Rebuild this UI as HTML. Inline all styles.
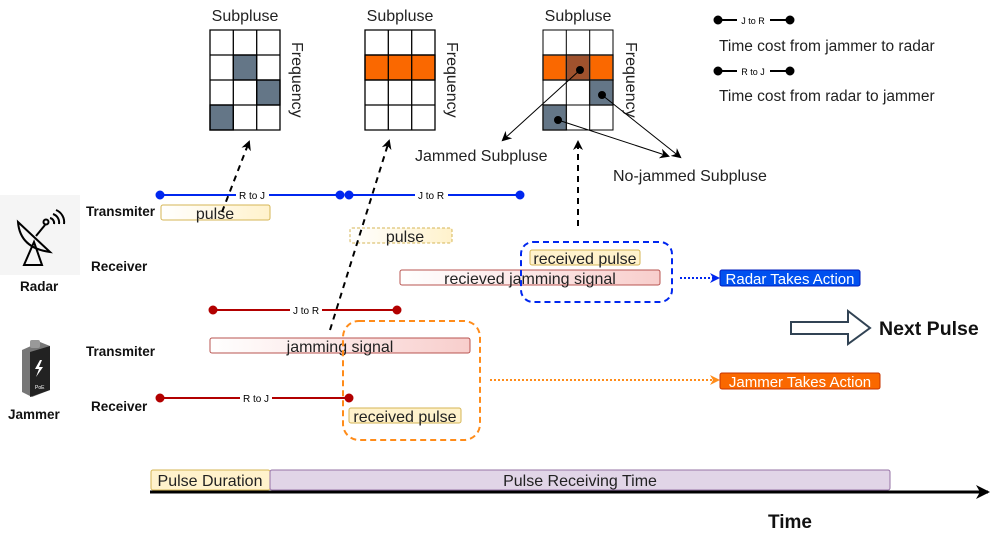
<!DOCTYPE html>
<html><head><meta charset="utf-8"><style>
html,body{margin:0;padding:0;background:#fff;}
svg{display:block;font-family:"Liberation Sans",Arial,sans-serif;}
</style></head><body>
<svg width="1000" height="533" viewBox="0 0 1000 533" xmlns="http://www.w3.org/2000/svg">
<defs>
<linearGradient id="gy" x1="0" x2="1"><stop offset="0" stop-color="#fff"/><stop offset="1" stop-color="#fff2cc"/></linearGradient>
<linearGradient id="gr" x1="0" x2="1"><stop offset="0" stop-color="#fff"/><stop offset="1" stop-color="#f8cecc"/></linearGradient>
<marker id="ab" markerWidth="10" markerHeight="10" refX="8" refY="5" orient="auto" markerUnits="userSpaceOnUse"><path d="M0,0 L10,5 L0,10 L3,5 z" fill="#000"/></marker>
<marker id="abl" markerWidth="10" markerHeight="10" refX="8" refY="5" orient="auto" markerUnits="userSpaceOnUse"><path d="M0,0 L10,5 L0,10 L3,5 z" fill="#0027ef"/></marker>
<marker id="ao" markerWidth="10" markerHeight="10" refX="8" refY="5" orient="auto" markerUnits="userSpaceOnUse"><path d="M0,0 L10,5 L0,10 L3,5 z" fill="#ff8c1a"/></marker>
<marker id="at" markerWidth="14" markerHeight="14" refX="12" refY="7" orient="auto" markerUnits="userSpaceOnUse"><path d="M0,0 L14,7 L0,14 L4,7 z" fill="#000"/></marker>
</defs>

<g font-size="16" fill="#222">
<text x="245" y="21" text-anchor="middle">Subpluse</text>
<text x="400" y="21" text-anchor="middle">Subpluse</text>
<text x="578" y="21" text-anchor="middle">Subpluse</text>
</g>
<g stroke="#000" stroke-width="1.3">
<rect x="233.3" y="55" width="23.3" height="25" fill="#647687"/>
<rect x="256.7" y="80" width="23.3" height="25" fill="#647687"/>
<rect x="210" y="105" width="23.3" height="25" fill="#647687"/>
<path d="M210,30h70v100h-70z M233.3,30v100 M256.7,30v100 M210,55h70 M210,80h70 M210,105h70" fill="none"/>
<rect x="365" y="55" width="70" height="25" fill="#fa6800"/>
<path d="M365,30h70v100h-70z M388.3,30v100 M411.7,30v100 M365,55h70 M365,80h70 M365,105h70" fill="none"/>
</g>
<g stroke="#666" stroke-width="1.5">
<rect x="543" y="55" width="70" height="25" fill="#fa6800"/>
<rect x="566.3" y="55" width="23.3" height="25" fill="#a0522d"/>
<rect x="589.7" y="80" width="23.3" height="25" fill="#647687"/>
<rect x="543" y="105" width="23.3" height="25" fill="#647687"/>
<path d="M543,30h70v100h-70z M566.3,30v100 M589.7,30v100 M543,55h70 M543,80h70 M543,105h70" fill="none" stroke="#000" stroke-width="1"/>
</g>
<g font-size="16" fill="#222">
<text transform="translate(292,42) rotate(90)">Frequency</text>
<text transform="translate(447,42) rotate(90)">Frequency</text>
<text transform="translate(626,42) rotate(90)">Frequency</text>
</g>
<g stroke="#000" stroke-width="1">
<circle cx="580" cy="70" r="3.5" fill="#000"/>
<circle cx="602" cy="95" r="3.5" fill="#000"/>
<circle cx="558" cy="120" r="3.5" fill="#000"/>
<line x1="580" y1="70" x2="503" y2="140" marker-end="url(#ab)"/>
<line x1="602" y1="95" x2="680" y2="157" marker-end="url(#ab)"/>
<line x1="558" y1="120" x2="668" y2="156" marker-end="url(#ab)"/>
</g>
<text x="415" y="161" font-size="16" fill="#222">Jammed Subpluse</text>
<text x="613" y="181" font-size="16" fill="#222">No-jammed Subpluse</text>

<g stroke="#000" stroke-width="2">
<line x1="718" y1="20" x2="792" y2="20"/><circle cx="718" cy="20" r="3.5"/><circle cx="790" cy="20" r="3.5"/>
<line x1="718" y1="71" x2="792" y2="71"/><circle cx="718" cy="71" r="3.5"/><circle cx="790" cy="71" r="3.5"/>
</g>
<rect x="737" y="14" width="33" height="12" fill="#fff"/><text x="753" y="24" font-size="9" text-anchor="middle">J to R</text>
<rect x="737" y="65" width="33" height="12" fill="#fff"/><text x="753" y="75" font-size="9" text-anchor="middle">R to J</text>
<text x="719" y="51" font-size="15.5" fill="#222">Time cost from jammer to radar</text>
<text x="719" y="101" font-size="15.5" fill="#222">Time cost from radar to jammer</text>

<rect x="0" y="195" width="80" height="80" fill="#f5f5f5"/>
<g fill="none" stroke="#000" stroke-width="2">
<path d="M18,222 Q20,248 50,252 Z"/>
<path d="M34,242 L24,265 L42,265 Z"/>
<line x1="36" y1="236" x2="45" y2="225"/><circle cx="46" cy="222" r="2.5"/>
<path d="M50,218 a5,5 0 0 1 4,6 M53,214 a9,9 0 0 1 6,10 M56,210 a13,13 0 0 1 8,14"/>
</g>
<path d="M22,350 L40,342 L50,346 L50,390 L32,397 L22,392 Z" fill="#777"/>
<path d="M30,352 L50,346 L50,390 L30,397 Z" fill="#222"/>
<rect x="30" y="340" width="10" height="8" rx="2" fill="#999"/>
<path d="M40,360 l-5,9 h4 l-3,8 l7,-10 h-4 l3,-7z" fill="#fff"/>
<text x="35" y="389" font-size="5" fill="#fff">PoE</text>

<g font-size="13.5" font-weight="bold" fill="#111">
<text x="86" y="216">Transmiter</text>
<text x="91" y="271">Receiver</text>
<text x="20" y="291">Radar</text>
<text x="86" y="356">Transmiter</text>
<text x="91" y="411">Receiver</text>
<text x="8" y="419">Jammer</text>
</g>

<g stroke="#0027ef" stroke-width="2" fill="#0027ef">
<line x1="160" y1="195" x2="340" y2="195"/><circle cx="160" cy="195" r="3.5"/><circle cx="340" cy="195" r="3.5"/>
<line x1="349" y1="195" x2="520" y2="195"/><circle cx="349" cy="195" r="3.5"/><circle cx="520" cy="195" r="3.5"/>
</g>
<rect x="236" y="189" width="33" height="12" fill="#fff"/><text x="252" y="199" font-size="10" text-anchor="middle">R to J</text>
<rect x="415" y="189" width="33" height="12" fill="#fff"/><text x="431" y="199" font-size="10" text-anchor="middle">J to R</text>

<g stroke="#b20000" stroke-width="2" fill="#b20000">
<line x1="213" y1="310" x2="397" y2="310"/><circle cx="213" cy="310" r="3.5"/><circle cx="397" cy="310" r="3.5"/>
<line x1="160" y1="398" x2="349" y2="398"/><circle cx="160" cy="398" r="3.5"/><circle cx="349" cy="398" r="3.5"/>
</g>
<rect x="290" y="304" width="32" height="12" fill="#fff"/><text x="306" y="314" font-size="10" text-anchor="middle">J to R</text>
<rect x="240" y="392" width="32" height="12" fill="#fff"/><text x="256" y="402" font-size="10" text-anchor="middle">R to J</text>

<g font-size="16" fill="#222" text-anchor="middle">
<rect x="161" y="205" width="109" height="15" rx="2" fill="url(#gy)" stroke="#d6b656"/>
<text x="215" y="219">pulse</text>
<rect x="350" y="228" width="102" height="15" rx="2" fill="url(#gy)" stroke="#d6b656" stroke-dasharray="3,2"/>
<text x="405" y="242">pulse</text>
<rect x="400" y="270" width="260" height="15" rx="2" fill="url(#gr)" stroke="#b85450"/>
<text x="530" y="284">recieved jamming signal</text>
<rect x="530" y="250" width="110" height="15" rx="2" fill="#fff2cc" stroke="#d6b656"/>
<text x="585" y="264">received pulse</text>
<rect x="210" y="338" width="260" height="15" rx="2" fill="url(#gr)" stroke="#b85450"/>
<text x="340" y="352">jamming signal</text>
<rect x="349" y="408" width="112" height="15" rx="2" fill="#fff2cc" stroke="#d6b656"/>
<text x="405" y="422">received pulse</text>
</g>
<rect x="521" y="242" width="151" height="60" rx="12" fill="none" stroke="#0027ef" stroke-width="2" stroke-dasharray="6,4"/>
<rect x="343" y="321" width="137" height="119" rx="16" fill="none" stroke="#ff8c1a" stroke-width="2" stroke-dasharray="6,4"/>

<line x1="680" y1="278" x2="718" y2="278" stroke="#0027ef" stroke-width="2" stroke-dasharray="2,2" marker-end="url(#abl)"/>
<rect x="720" y="270" width="140" height="16" rx="2" fill="#0050ef" stroke="#001dbc"/>
<text x="790" y="284" font-size="15" fill="#fff" text-anchor="middle">Radar Takes Action</text>
<line x1="490" y1="380" x2="718" y2="380" stroke="#ff8c1a" stroke-width="2" stroke-dasharray="2,2" marker-end="url(#ao)"/>
<rect x="720" y="373" width="160" height="16" rx="2" fill="#fa6800" stroke="#c73500"/>
<text x="800" y="387" font-size="15" fill="#fff" text-anchor="middle">Jammer Takes Action</text>

<path d="M791,322 H848 V311 L870,328 L848,344 V334 H791 Z" fill="#fff" stroke="#314354" stroke-width="2"/>
<text x="879" y="335" font-size="19.5" font-weight="bold" fill="#111">Next Pulse</text>

<g stroke="#000" stroke-width="2" stroke-dasharray="6,5" fill="none">
<line x1="222" y1="212" x2="249" y2="142" marker-end="url(#ab)"/>
<line x1="330" y1="330" x2="389" y2="141" marker-end="url(#ab)"/>
<line x1="578" y1="226" x2="578" y2="142" marker-end="url(#ab)"/>
</g>

<rect x="151" y="470" width="119" height="20" rx="2" fill="#fff2cc" stroke="#d6b656"/>
<text x="210" y="486" font-size="16" fill="#222" text-anchor="middle">Pulse Duration</text>
<rect x="270" y="470" width="620" height="20" rx="2" fill="#e1d5e7" stroke="#9673a6"/>
<text x="580" y="486" font-size="16" fill="#222" text-anchor="middle">Pulse Receiving Time</text>
<line x1="150" y1="492" x2="988" y2="492" stroke="#000" stroke-width="3" marker-end="url(#at)"/>
<text x="790" y="528" font-size="19" font-weight="bold" fill="#111" text-anchor="middle">Time</text>
</svg>
</body></html>
